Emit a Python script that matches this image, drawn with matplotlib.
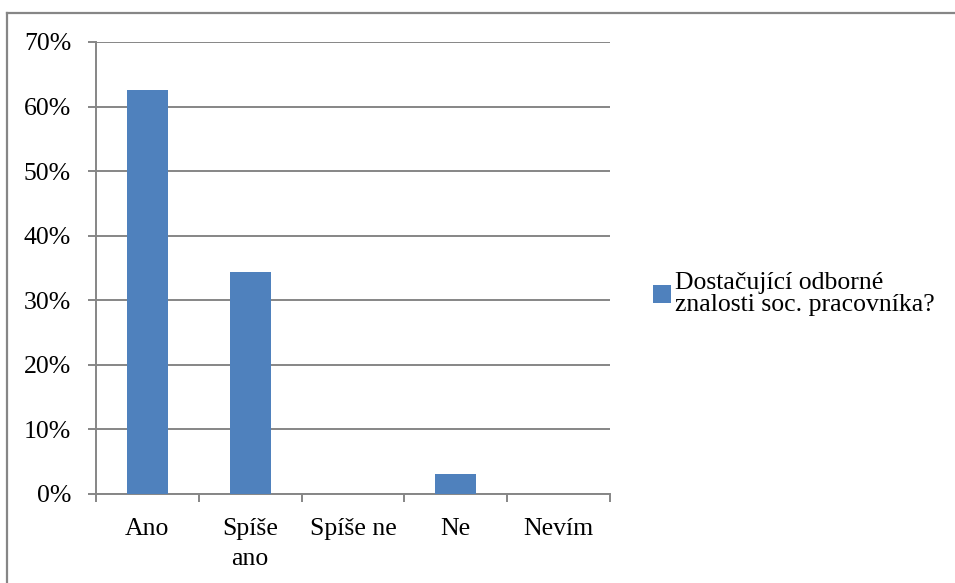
import matplotlib
matplotlib.use("Agg")
import matplotlib.pyplot as plt
from matplotlib.lines import Line2D
from matplotlib.patches import Patch

categories = ["Ano", "Spíše\nano", "Spíše ne", "Ne", "Nevím"]
values = [62.5, 34.4, 0.0, 3.1, 0.0]
series_name = "Dostačující odborné\nznalosti soc. pracovníka?"
yticks = [0, 10, 20, 30, 40, 50, 60, 70]

plt.rcParams['font.family'] = ['Liberation Serif']
grey = "#868686"
bar_color = "#4F81BD"

W, H = 955, 583
fig = plt.figure(figsize=(W / 100, H / 100), dpi=100)
ax = fig.add_axes([96 / W, 1 - 494 / H, (610 - 96) / W, (494 - 42) / H])

x = list(range(len(categories)))
ax.bar(x, values, width=0.4, color=bar_color, zorder=3)

ax.set_xlim(-0.5, len(categories) - 0.5)
ax.set_ylim(0, 70)
ax.set_yticks(yticks)
ax.set_yticklabels([f"{v}%" for v in yticks], fontsize=18.5)
ax.yaxis.grid(True, color=grey, linewidth=1.4, zorder=0)

ax.set_xticks([i - 0.5 for i in range(len(categories) + 1)])
ax.set_xticklabels([])
ax.set_xticks(x, minor=True)
ax.set_xticklabels(categories, minor=True, fontsize=18.5, linespacing=1.5)
ax.tick_params(axis='x', which='minor', length=0, pad=17)
ax.tick_params(axis='x', which='major', length=6, width=1.4, color=grey, direction='out')
ax.tick_params(axis='y', length=6, width=1.4, color=grey, direction='out', pad=12)

for s in ["top", "right"]:
    ax.spines[s].set_visible(False)
for s in ["left", "bottom"]:
    ax.spines[s].set_color(grey)
    ax.spines[s].set_linewidth(1.4)

handle = Patch(facecolor=bar_color, edgecolor='none')
leg = fig.legend([handle], [series_name], loc='center left',
                 bbox_to_anchor=(653 / W, 1 - 294 / H), frameon=False,
                 fontsize=18.5, handlelength=0.7, handleheight=0.7,
                 handletextpad=0.15, borderaxespad=0, borderpad=0)
for t in leg.get_texts():
    t.set_linespacing(0.95)

# outer chart border (top and left visible)
fig.add_artist(Line2D([6.5 / W, 6.5 / W], [0, 1 - 13 / H], transform=fig.transFigure,
                      color=grey, linewidth=1.6))
fig.add_artist(Line2D([6.5 / W, 1], [1 - 13 / H, 1 - 13 / H], transform=fig.transFigure,
                      color=grey, linewidth=1.6))

fig.savefig("out.png", dpi=100)
